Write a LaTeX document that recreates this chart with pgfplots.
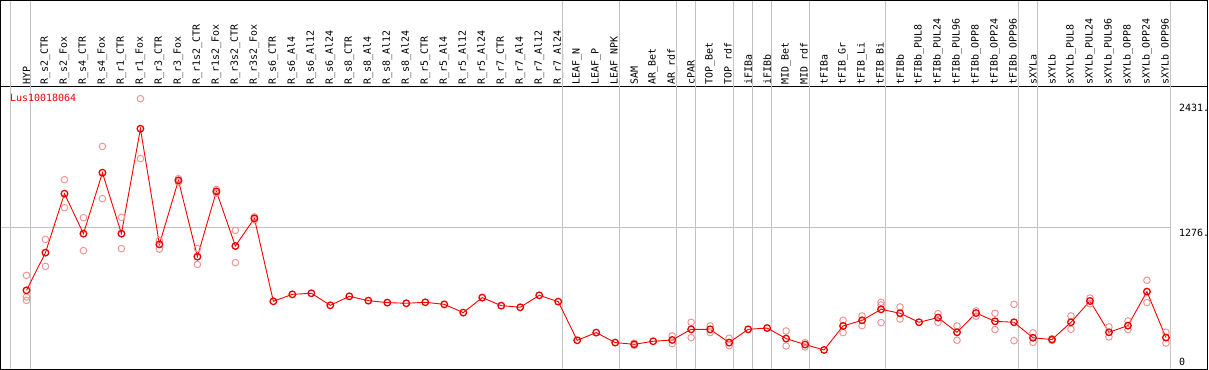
\documentclass[border=0pt]{standalone}
\usepackage{pgfplots}
\pgfplotsset{compat=1.18}
\usepackage{pgfplotstable}
\usepackage{fontspec}
\setmainfont{DejaVu Sans Mono}
\definecolor{rep}{RGB}{238,150,150}
\definecolor{sep}{RGB}{195,195,195}
\definecolor{meanc}{RGB}{235,0,0}

\pgfplotstableread{
x y
0 699
1 1046
2 1589
3 1221
4 1782
5 1221
6 2187
7 1122
8 1711
9 1009
10 1610
11 1107
12 1362
13 598
14 662
15 672
16 561
17 644
18 604
19 586
20 580
21 589
22 570
23 494
24 632
25 558
26 543
27 653
28 595
29 239
30 310
31 218
32 202
33 230
34 242
35 340
36 340
37 218
38 340
39 352
40 255
41 200
42 150
43 371
44 423
45 524
46 488
47 405
48 448
49 313
50 490
51 414
52 405
53 262
54 246
55 405
56 601
57 313
58 374
59 687
60 264
}\means

\pgfplotstableread{
x y
0 837
0 638
0 607
1 1168
1 920
2 1718
2 1460
3 1368
3 1064
4 2024
4 1543
5 1371
5 1083
6 2463
6 1911
7 1159
7 1079
8 1727
8 1696
9 1083
9 938
10 1628
10 1594
11 1251
11 954
12 1375
12 1348
32 212
32 193
34 279
34 209
35 405
35 264
36 371
36 310
37 258
37 190
40 325
40 187
41 218
41 178
43 423
43 310
44 463
44 374
45 589
45 564
45 402
46 546
46 435
48 485
48 405
49 371
49 239
50 509
50 460
51 488
51 338
52 570
52 236
53 308
53 219
54 253
54 239
55 463
55 340
56 628
56 575
57 362
57 270
58 417
58 338
59 791
59 586
60 313
60 214
}\reps

\begin{document}
\begin{tikzpicture}
\begin{axis}[
  scale only axis,
  width=1208bp, height=283bp,
  xmin=-1.368, xmax=62.21,
  ymin=-28, ymax=2576,
  clip=false,
  axis line style={black, line width=1bp},
  xtick={0,...,60},
  xticklabel pos=right,
  major tick length=0pt,
  ytick=\empty,
  xticklabels={HYP,R\_s2\_CTR,R\_s2\_Fox,R\_s4\_CTR,R\_s4\_Fox,R\_r1\_CTR,R\_r1\_Fox,R\_r3\_CTR,R\_r3\_Fox,R\_r1s2\_CTR,R\_r1s2\_Fox,R\_r3s2\_CTR,R\_r3s2\_Fox,R\_s6\_CTR,R\_s6\_Al4,R\_s6\_Al12,R\_s6\_Al24,R\_s8\_CTR,R\_s8\_Al4,R\_s8\_Al12,R\_s8\_Al24,R\_r5\_CTR,R\_r5\_Al4,R\_r5\_Al12,R\_r5\_Al24,R\_r7\_CTR,R\_r7\_Al4,R\_r7\_Al12,R\_r7\_Al24,LEAF\_N,LEAF\_P,LEAF\_NPK,SAM,AR\_Bet,AR\_rdf,cPAR,TOP\_Bet,TOP\_rdf,iFIBa,iFIBb,MID\_Bet,MID\_rdf,tFIBa,tFIB\_Gr,tFIB\_Li,tFIB\_Bi,tFIBb,tFIBb\_PUL8,tFIBb\_PUL24,tFIBb\_PUL96,tFIBb\_OPP8,tFIBb\_OPP24,tFIBb\_OPP96,sXYLa,sXYLb,sXYLb\_PUL8,sXYLb\_PUL24,sXYLb\_PUL96,sXYLb\_OPP8,sXYLb\_OPP24,sXYLb\_OPP96},
  xticklabel style={rotate=90, anchor=west, inner xsep=2.2bp, inner ysep=0pt, font=\fontsize{10}{10}\selectfont},
]
% separators
\pgfplotsinvokeforeach{-0.842,0.237,28.237,31.237,34.237,35.237,37.237,38.237,39.237,41.237,45.237,52.237,53.237,60.237}{
  \draw[sep, line width=1bp] (axis cs:#1,-28) -- (axis cs:#1,3367.3);
}
\draw[sep, line width=1bp] (axis cs:-1.368,1276) -- (axis cs:60.237,1276);
\draw[black, line width=1bp] (axis cs:-1.368,-28) rectangle (axis cs:62.21,3367.3);

\addplot[only marks, mark=o, mark size=3.3bp, mark options={draw=rep, line width=1bp}] table {\reps};
\addplot[red, line width=0.9bp, mark=o, mark size=3.3bp, mark options={draw=meanc, line width=1.3bp}] table {\means};

\node[anchor=north west, inner sep=0pt, font=\fontsize{10}{10}\selectfont, yshift=-1.5bp] at (axis cs:60.68,2431) {2431.};
\node[anchor=north west, inner sep=0pt, font=\fontsize{10}{10}\selectfont, yshift=-1.5bp] at (axis cs:60.68,1276) {1276.};
\node[anchor=south west, inner sep=0pt, font=\fontsize{10}{10}\selectfont] at (axis cs:60.68,0) {0};
\node[anchor=west, inner sep=0pt, text=red, font=\fontsize{10}{10}\selectfont] at (axis cs:-0.87,2475) {Lus10018064};
\end{axis}
\end{tikzpicture}
\end{document}
